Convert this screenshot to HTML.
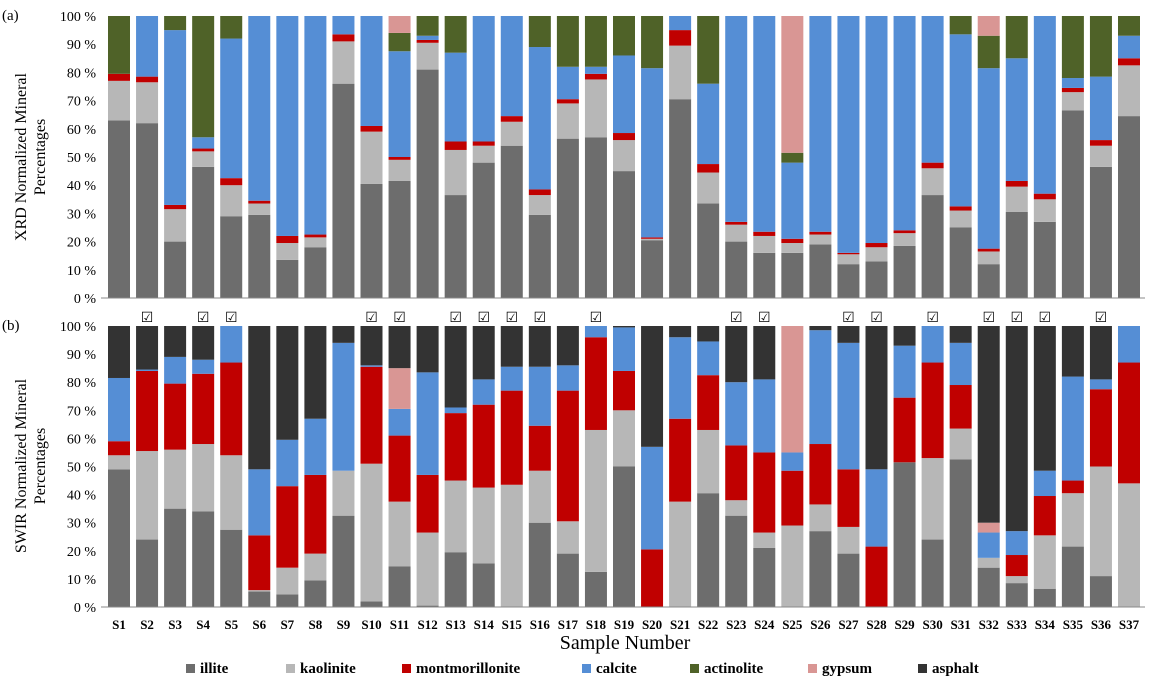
<!DOCTYPE html>
<html><head><meta charset="utf-8"><style>
html,body{margin:0;padding:0;background:#fff;}
svg{display:block;font-family:"Liberation Serif",serif;}
</style></head><body>
<svg id="chart" width="1159" height="693" viewBox="0 0 1159 693" xmlns="http://www.w3.org/2000/svg">
<g id="top"></g>
<g id="bot"></g>
<g id="xlab"></g>
<text x="2" y="20" font-size="15">(a)</text>
<text x="2" y="330" font-size="15">(b)</text>
<text transform="translate(26,157) rotate(-90)" text-anchor="middle" font-size="16"><tspan x="0" dy="0">XRD Normalized Mineral</tspan><tspan x="0" dy="19">Percentages</tspan></text>
<text transform="translate(26,466) rotate(-90)" text-anchor="middle" font-size="16"><tspan x="0" dy="0">SWIR Normalized Mineral</tspan><tspan x="0" dy="19">Percentages</tspan></text>
<text x="625" y="649" text-anchor="middle" font-size="20">Sample Number</text>
<g id="legend"></g>
</svg>
<script>
const samples = Array.from({length:37},(_,i)=>'S'+(i+1));
const yTicks = ['0 %','10 %','20 %','30 %','40 %','50 %','60 %','70 %','80 %','90 %','100 %'];
const minerals = ['illite','kaolinite','montmorillonite','calcite','actinolite','gypsum','asphalt'];
const colors = ['#6d6d6d','#b7b7b7','#c00000','#558ed5','#4f6228','#d99694','#333333'];
const checked = [2,4,5,10,11,13,14,15,16,18,23,24,27,28,30,32,33,34,36];

const xrdIllite = [63,62,20,46.5,29,29.5,13.5,18,76,40.5,41.5,81,36.5,48,54,29.5,56.5,57,45,20.5,70.5,33.5,20,16,16,19,12,13,18.5,36.5,25,12,30.5,27,66.5,46.5,64.5];
const xrdKaolinite = [14,14.5,11.5,5.5,11,4,6,3.5,15,18.5,7.5,9.5,16,6,8.5,7,12.5,20.5,11,0.5,19,11,6,6,3.5,3.5,3.5,5,4.5,9.5,6,4.5,9,8,6.5,7.5,18];
const xrdMont = [2.5,2,1.5,1,2.5,1,2.5,1,2.5,2,1,1,3,1.5,2,2,1.5,2,2.5,0.5,5.5,3,1,1.5,1.5,1,0.5,1.5,1,2,1.5,1,2,2,1.5,2,2.5];
const xrdCalcite = [0,21.5,62,4,49.5,65.5,78,77.5,6.5,39,37.5,1.5,31.5,44.5,35.5,50.5,11.5,2.5,27.5,60,5,28.5,73,76.5,27,76.5,84,80.5,76,52,61,64,43.5,63,3.5,22.5,8];
const xrdActinolite = [20.5,0,5,43,8,0,0,0,0,0,6.5,7,13,0,0,11,18,18,14,18.5,0,24,0,0,3.5,0,0,0,0,0,6.5,11.5,15,0,22,21.5,7];
const xrdGypsum = [0,0,0,0,0,0,0,0,0,0,6,0,0,0,0,0,0,0,0,0,0,0,0,0,48.5,0,0,0,0,0,0,7,0,0,0,0,0];

const swirIllite = [49,24,35,34,27.5,5.5,4.5,9.5,32.5,2,14.5,0.5,19.5,15.5,0,30,19,12.5,50,0,0,40.5,32.5,21,0,27,19,0,51.5,24,52.5,14,8.5,6.5,21.5,11,0];
const swirKaolinite = [5,31.5,21,24,26.5,0.5,9.5,9.5,16,49,23,26,25.5,27,43.5,18.5,11.5,50.5,20,0,37.5,22.5,5.5,5.5,29,9.5,9.5,0,0,29,11,3.5,2.5,19,19,39,44];
const swirMont = [5,28.5,23.5,25,33,19.5,29,28,0,34.5,23.5,20.5,24,29.5,33.5,16,46.5,33,14,20.5,29.5,19.5,19.5,28.5,19.5,21.5,20.5,21.5,23,34,15.5,0,7.5,14,4.5,27.5,43];
const swirCalcite = [22.5,0.5,9.5,5,13,23.5,16.5,20,45.5,0.5,9.5,36.5,2,9,8.5,21,9,4,15.5,36.5,29,12,22.5,26,6.5,40.5,45,27.5,18.5,13,15,9,8.5,9,37,3.5,13];
const swirGypsum = [0,0,0,0,0,0,0,0,0,0,14.5,0,0,0,0,0,0,0,0,0,0,0,0,0,45,0,0,0,0,0,0,3.5,0,0,0,0,0];
const swirAsphalt = [18.5,15.5,11,12,0,51,40.5,33,6,14,15,16.5,29,19,14.5,14.5,14,0,0.5,43,4,5.5,20,19,0,1.5,6,51,7,0,6,70,73,51.5,18,19,0];

const NS='http://www.w3.org/2000/svg';
function mk(tag,attrs,parent){const e=document.createElementNS(NS,tag);for(const k in attrs)e.setAttribute(k,attrs[k]);parent.appendChild(e);return e;}
const xLeft=101, xRight=1145, x0=119, step=(1129-119)/36, bw=22;
function xc(i){return x0+i*step;}

function panel(g,yTop,yBot,seriesList,colorIdx,pname){
  const y=v=>yBot-(v/100)*(yBot-yTop);
  yTicks.forEach((t,k)=>{
    const tx=mk('text',{x:96,y:y(k*10)+5,'text-anchor':'end','font-size':14},g);
    
    
    tx.textContent=t;
  });
  samples.forEach((s,i)=>{
    let acc=0;
    seriesList.forEach((arr,j)=>{
      const v=arr[i]; if(!v) return;
      const r=mk('rect',{x:xc(i)-bw/2,y:y(acc+v),width:bw,height:y(acc)-y(acc+v),fill:colors[colorIdx[j]]},g);
      
      
      acc+=v;
    });
  });
  const ax=mk('line',{x1:xLeft,x2:xRight,y1:yBot,y2:yBot,stroke:'#888','stroke-width':1},g);
  
  
}
panel(document.getElementById('top'),16,298,[xrdIllite,xrdKaolinite,xrdMont,xrdCalcite,xrdActinolite,xrdGypsum],[0,1,2,3,4,5],'xrd');
panel(document.getElementById('bot'),326,607,[swirIllite,swirKaolinite,swirMont,swirCalcite,swirGypsum,swirAsphalt],[0,1,2,3,5,6],'swir');

const xl=document.getElementById('xlab');
samples.forEach((s,i)=>{
  const t=mk('text',{x:xc(i),y:629,'text-anchor':'middle','font-size':13,'font-weight':'bold'},xl);
  
  
  t.textContent=s;
});
checked.forEach(n=>{
  const t=mk('text',{x:xc(n-1),y:322,'text-anchor':'middle','font-size':14,'font-family':'DejaVu Sans, sans-serif'},xl);
  
  
  t.textContent='\u2611';
});
const lg=document.getElementById('legend');
const lx=[186,286,402,582,690,808,918];
minerals.forEach((m,i)=>{
  const r=mk('rect',{x:lx[i],y:664,width:9,height:9,fill:colors[i]},lg);
  
  
  const t=mk('text',{x:lx[i]+14,y:673,'font-size':15,'font-weight':'bold'},lg);
  
  
  t.textContent=m;
});
</script>
</body></html>
